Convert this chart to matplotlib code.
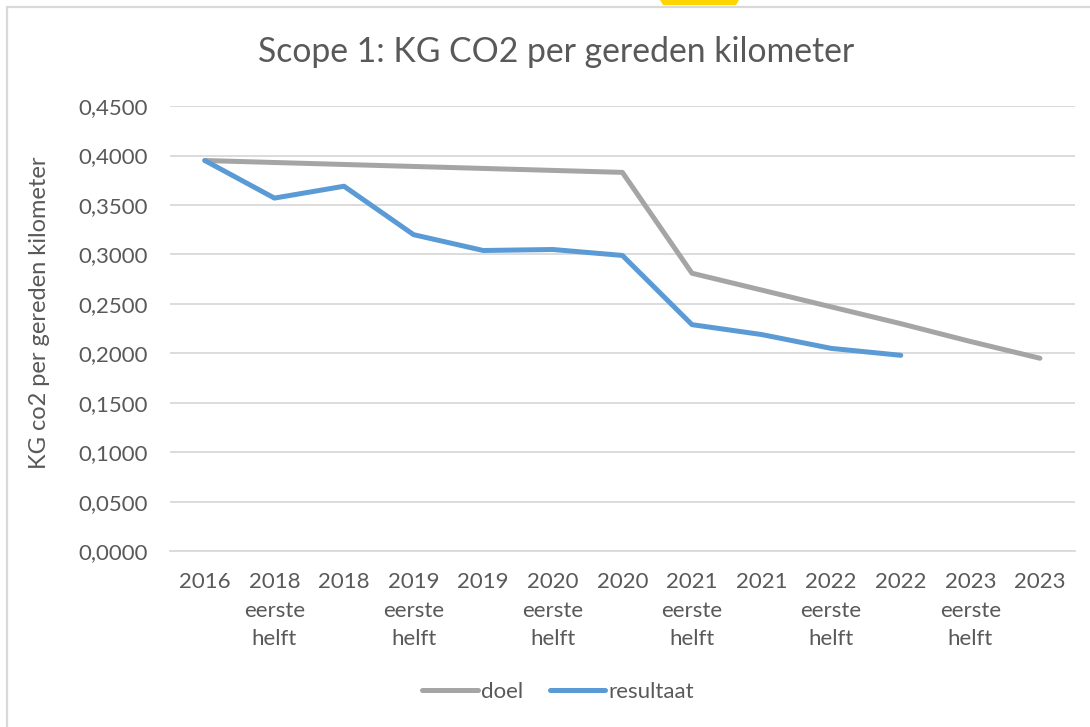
import matplotlib.pyplot as plt
from matplotlib.patches import Rectangle, Polygon
from matplotlib.ticker import FuncFormatter

# Data
categories = ['2016', '2018\neerste\nhelft', '2018', '2019\neerste\nhelft', '2019',
              '2020\neerste\nhelft', '2020', '2021\neerste\nhelft', '2021',
              '2022\neerste\nhelft', '2022', '2023\neerste\nhelft', '2023']
doel = [0.395, 0.393, 0.391, 0.389, 0.387, 0.385, 0.383,
        0.281, 0.264, 0.247, 0.230, 0.212, 0.195]
resultaat = [0.395, 0.357, 0.369, 0.320, 0.304, 0.305, 0.299,
             0.229, 0.219, 0.205, 0.198]

txt = '#595959'
plt.rcParams['font.family'] = ['Lato', 'DejaVu Sans']

fig = plt.figure(figsize=(10.9, 7.27), dpi=100)
ax = fig.add_axes([0.156, 0.242, 0.830, 0.612])

x = list(range(len(categories)))
ax.plot(x, doel, color='#A5A5A5', lw=3.6, solid_capstyle='round', label='doel')
ax.plot(x[:len(resultaat)], resultaat, color='#5B9BD5', lw=3.6,
        solid_capstyle='round', label='resultaat')

ax.set_xlim(-0.5, len(categories) - 0.5)
ax.set_ylim(0, 0.45)
ax.set_yticks([i * 0.05 for i in range(10)])
ax.yaxis.set_major_formatter(FuncFormatter(lambda v, p: f'{v:.4f}'.replace('.', ',')))
ax.set_xticks(x)
ax.set_xticklabels(categories, linespacing=1.55)
ax.grid(axis='y', color='#D9D9D9', lw=1.3)
ax.set_axisbelow(True)
for s in ['top', 'right', 'left']:
    ax.spines[s].set_visible(False)
ax.spines['bottom'].set_color('#D9D9D9')
ax.spines['bottom'].set_linewidth(1.3)
ax.tick_params(axis='both', length=0, labelsize=16, colors=txt)
ax.tick_params(axis='y', pad=16)
ax.tick_params(axis='x', pad=15)

ax.set_ylabel('KG co2 per gereden kilometer', fontsize=17, color=txt)
ax.yaxis.set_label_coords(-0.133, 0.535)
fig.text(0.510, 0.928, 'Scope 1: KG CO2 per gereden kilometer', ha='center',
         va='center', fontsize=24.3, color=txt)

leg = fig.legend(loc='center', bbox_to_anchor=(0.512, 0.048), ncol=2, frameon=False,
                 fontsize=16, handlelength=2.5, handletextpad=0.15, columnspacing=1.2)
for t in leg.get_texts():
    t.set_color(txt)

# chart frame and the clipped yellow shape at the top
W, H = 1090, 727
fig.add_artist(Rectangle((6.5 / W, -0.1), 1.2, (H - 6.5) / H + 0.1,
                         transform=fig.transFigure, fill=False,
                         edgecolor='#D9D9D9', lw=1.6))
fig.add_artist(Polygon([(660 / W, 1.0), (739 / W, 1.0), (736 / W, 1 - 5 / H),
                        (663 / W, 1 - 5 / H)], closed=True,
                       transform=fig.transFigure, facecolor='#FFD500',
                       edgecolor='none', zorder=0))

fig.savefig('out.png', dpi=100)
